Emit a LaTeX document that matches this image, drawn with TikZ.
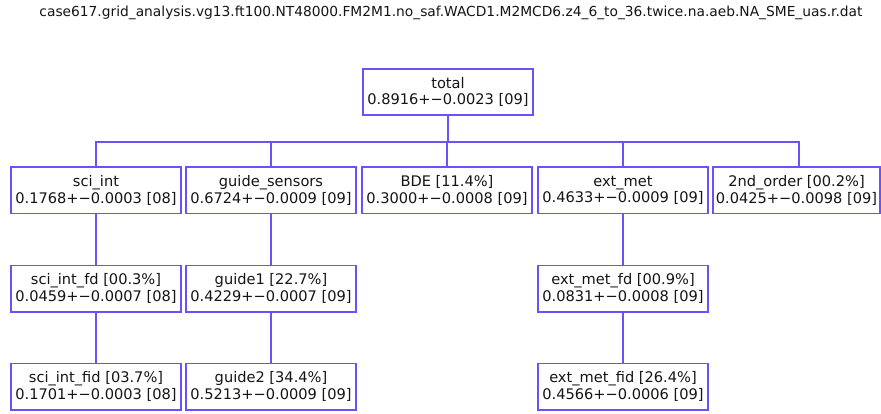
\documentclass[tikz,border=0pt]{standalone}
\usepackage{fontspec}
\setmainfont{DejaVu Sans}
\usepackage{graphicx}
\definecolor{edgeblue}{RGB}{110,80,250}
\definecolor{txt}{RGB}{20,20,20}
\begin{document}
\begin{tikzpicture}[x=1pt,y=-1pt,
  cell/.style={draw=edgeblue,line width=1.7pt,minimum width=170pt,minimum height=46.5pt,
    inner sep=0pt,align=center,text=txt,font=\fontsize{14.6}{16.8}\selectfont},
  link/.style={draw=edgeblue,line width=1.7pt}]
\useasboundingbox (0,0) rectangle (881,413);
\node[text=txt,inner sep=0pt] (title) at (451,13) {\resizebox{823pt}{!}{case617.grid\_analysis.vg13.ft100.NT48000.FM2M1.no\_saf.WACD1.M2MCD6.z4\_6\_to\_36.twice.na.aeb.NA\_SME\_uas.r.dat}};
\node[cell] (total) at (448,92) {total\\0.8916+−0.0023 [09]};
\node[cell] (sciint) at (96,190.3) {sci\_int\\0.1768+−0.0003 [08]};
\node[cell] (guides) at (271,190.3) {guide\_sensors\\0.6724+−0.0009 [09]};
\node[cell] (bde) at (447,190.3) {BDE [11.4\%]\\0.3000+−0.0008 [09]};
\node[cell] (extmet) at (623,190.3) {ext\_met\\0.4633+−0.0009 [09]};
\node[cell,minimum width=167pt] (second) at (796.5,190.3) {2nd\_order [00.2\%]\\0.0425+−0.0098 [09]};
\node[cell] (scifd) at (96,288.7) {sci\_int\_fd [00.3\%]\\0.0459+−0.0007 [08]};
\node[cell] (guide1) at (271,288.7) {guide1 [22.7\%]\\0.4229+−0.0007 [09]};
\node[cell] (extfd) at (623,288.7) {ext\_met\_fd [00.9\%]\\0.0831+−0.0008 [09]};
\node[cell] (scifid) at (96,386.7) {sci\_int\_fid [03.7\%]\\0.1701+−0.0003 [08]};
\node[cell] (guide2) at (271,386.7) {guide2 [34.4\%]\\0.5213+−0.0009 [09]};
\node[cell] (extfid) at (623,386.7) {ext\_met\_fid [26.4\%]\\0.4566+−0.0006 [09]};
\coordinate (bus) at (447.5,142);
\coordinate (o2top) at ([xshift=2.2pt]second.north);
\draw[link] (total.south) -- (total.south |- bus);
\draw[link] (sciint.north) |- (bus);
\draw[link] (guides.north) |- (bus);
\draw[link] (bde.north) |- (bus);
\draw[link] (extmet.north) |- (bus);
\draw[link] (o2top) |- (bus);
\draw[link] (sciint.south) -- (scifd.north);
\draw[link] (scifd.south) -- (scifid.north);
\draw[link] (guides.south) -- (guide1.north);
\draw[link] (guide1.south) -- (guide2.north);
\draw[link] (extmet.south) -- (extfd.north);
\draw[link] (extfd.south) -- (extfid.north);
\end{tikzpicture}
\end{document}
